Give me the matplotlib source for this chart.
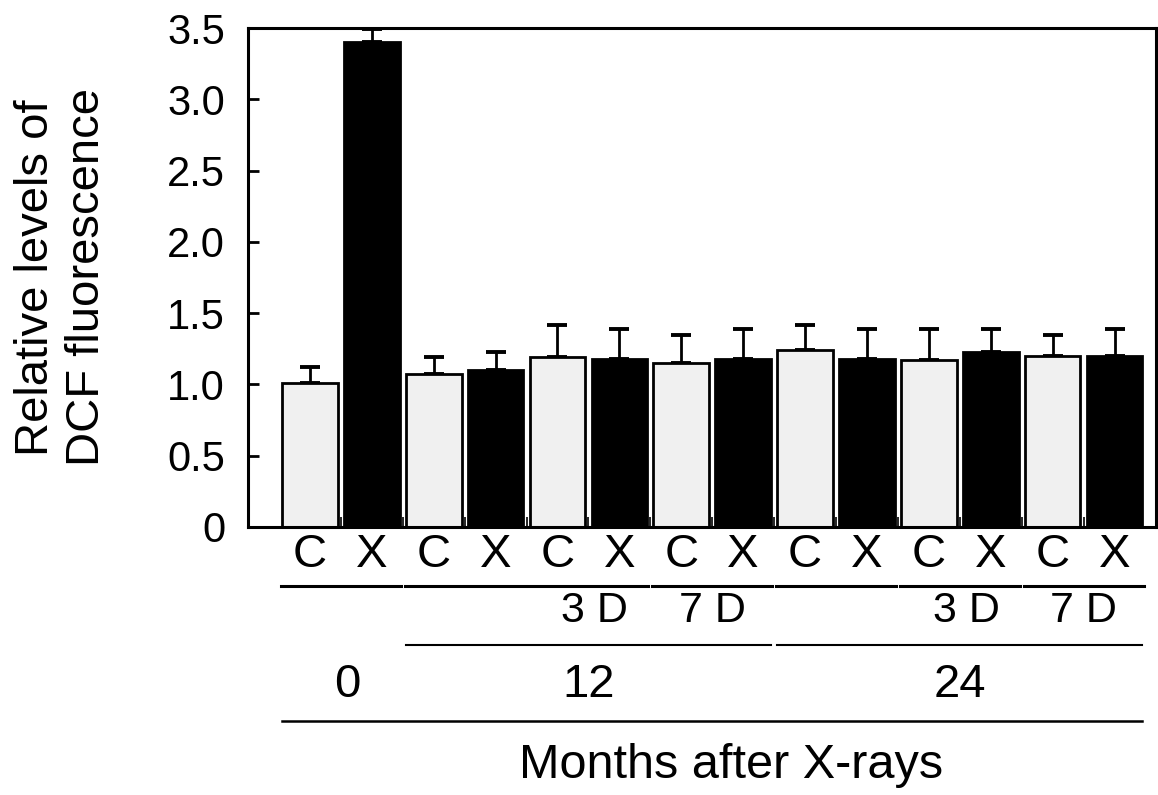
import numpy as np
import matplotlib
matplotlib.use("Agg")
import matplotlib.pyplot as plt
import matplotlib.transforms as mtransforms

plt.rcParams['font.family'] = ['Liberation Sans', 'DejaVu Sans']

### DATA ######################################################################
bar_labels = ["C", "X"] * 7
values = [1.01, 3.40, 1.07, 1.10, 1.19, 1.18, 1.15, 1.18, 1.24, 1.18, 1.17, 1.23, 1.20, 1.20]
errors = [0.11, 0.09, 0.12, 0.13, 0.23, 0.21, 0.20, 0.21, 0.18, 0.21, 0.22, 0.16, 0.15, 0.19]
day_labels = ["", "", "3 D", "7 D", "", "3 D", "7 D"]   # one per C/X pair
month_labels = ["0", "12", "24"]
month_pairs = [(0, 0), (1, 3), (4, 6)]                  # first/last pair index per month group
yticks = [0, 0.5, 1.0, 1.5, 2.0, 2.5, 3.0, 3.5]
ytick_labels = ["0", "0.5", "1.0", "1.5", "2.0", "2.5", "3.0", "3.5"]

### PLOT ######################################################################
fig = plt.figure(figsize=(11.58, 7.95), dpi=100)
ax = fig.add_axes([248/1158, 1 - 527/795, (1156-248)/1158, (527-28)/795])

x = np.arange(len(values))
colors = ["#f0f0f0" if lab == "C" else "black" for lab in bar_labels]
w = 0.9
ax.bar(x, values, width=w, color=colors, edgecolor="black", linewidth=2.0, zorder=2)
ax.errorbar(x, values, yerr=[np.zeros(len(errors)), errors], fmt="none",
            ecolor="black", elinewidth=2.0, capsize=7.5, capthick=2.8, zorder=1)

ax.set_xlim(-1.0, 13.67)
ax.set_ylim(0, 3.5)
ax.set_yticks(yticks)
ax.set_yticklabels(ytick_labels, fontsize=30)
ax.tick_params(axis="y", direction="in", length=8, width=2, pad=16.5)

ax.set_xticks(x)
ax.set_xticklabels(bar_labels, fontsize=34)
ax.tick_params(axis="x", which="major", length=0, pad=4)
ax.set_xticks(x[:-1] + 0.5, minor=True)
ax.tick_params(axis="x", which="minor", direction="in", length=7, width=1.2)

for sp in ax.spines.values():
    sp.set_linewidth(2.2)

ax.set_ylabel("Relative levels of\nDCF fluorescence", fontsize=34, linespacing=1.2)
ax.yaxis.set_label_coords(-0.1536, 0.5)

# annotation rows below the axis
trans = mtransforms.blended_transform_factory(ax.transData, fig.transFigure)
def fy(py):
    return 1 - py / 795

for p in range(7):
    ax.plot([2*p - 0.47, 2*p + 1.47], [fy(586), fy(586)], color="black", lw=2.2,
            transform=trans, clip_on=False)
    if day_labels[p]:
        ax.text(2*p + 0.5 + (0.1 if day_labels[p] == "3 D" else 0), fy(611), day_labels[p],
                fontsize=31, ha="center", va="center", transform=trans)

for lab, (p0, p1) in zip(month_labels, month_pairs):
    x0, x1 = 2*p0 - 0.45, 2*p1 + 1.45
    if lab != "0":
        ax.plot([x0, x1], [fy(645), fy(645)], color="black", lw=1.5,
                transform=trans, clip_on=False)
    ax.text((x0 + x1) / 2 + (0.1 if lab == "0" else 0), fy(685), lab,
            fontsize=34, ha="center", va="center", transform=trans)

ax.plot([-0.45, 13.45], [fy(721), fy(721)], color="black", lw=1.8,
        transform=trans, clip_on=False)
fig.text(731/1158, fy(765), "Months after X-rays", fontsize=35, ha="center", va="center")

fig.savefig("out.png", dpi=100)
